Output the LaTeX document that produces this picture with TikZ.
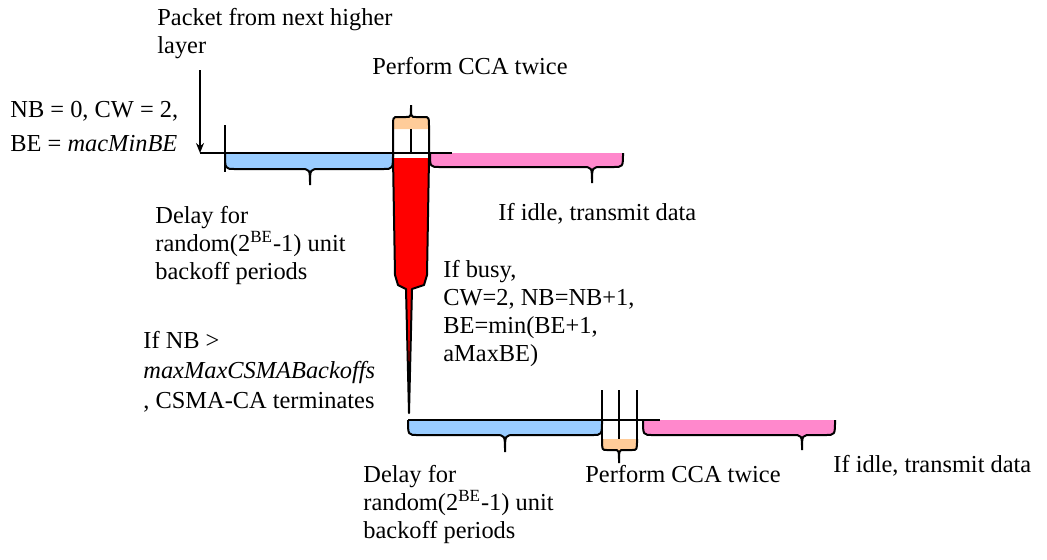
\documentclass[tikz,border=0pt]{standalone}
\usepackage{fontspec}
\setmainfont{Liberation Serif}
\usetikzlibrary{arrows.meta}

\definecolor{waitblue}{RGB}{153,204,255}
\definecolor{sendpink}{RGB}{255,136,204}
\definecolor{ccapeach}{RGB}{255,204,153}

% filled curly brace: left x, right x, tip x, flat y, body depth, tip depth, corner, colour
\newcommand{\cbrace}[8]{%
  \fill[#8] (#1,#4) .. controls (#1,#4+#5) .. (#1+#7,#4+#5) -- (#3-#7,#4+#5)
    .. controls (#3,#4+#5) .. (#3,#4+#6) .. controls (#3,#4+#5) .. (#3+#7,#4+#5)
    -- (#2-#7,#4+#5) .. controls (#2,#4+#5) .. (#2,#4) -- cycle;
  \draw[stroke] (#1,#4) .. controls (#1,#4+#5) .. (#1+#7,#4+#5) -- (#3-#7,#4+#5)
    .. controls (#3,#4+#5) .. (#3,#4+#6) .. controls (#3,#4+#5) .. (#3+#7,#4+#5)
    -- (#2-#7,#4+#5) .. controls (#2,#4+#5) .. (#2,#4);}

\begin{document}
\begin{tikzpicture}[x=0.5pt, y=-0.5pt,
        stroke/.style={line width=1pt, black},
        label/.style={anchor=base west, inner sep=0pt, align=left, font=\fontsize{12.2}{14}\selectfont},
        arrow/.style={-{Stealth[length=5pt, width=4pt]}, line width=1pt}
    ]
    \useasboundingbox (0,0) rectangle (1047,559);

    % first attempt
    \coordinate (pkt) at (200,70);
    \coordinate (t0) at (200,153);
    \coordinate (t1) at (452,153);
    \cbrace{225}{393}{310}{153}{16}{32}{10}{waitblue}
    \cbrace{430}{623}{592}{153}{14}{30}{10}{sendpink}
    \draw[stroke] (225,125) -- (225,172);
    \draw[stroke] (t0) -- (t1);
    \draw[arrow] (pkt) -- (t0);

    % CCA box and busy channel
    \cbrace{393}{429}{411}{129}{-12}{-24}{5}{ccapeach}
    \fill[red] (393,158) -- (395,275) -- (398,285) -- (406,289) -- (409,413)
        -- (412,289) -- (424,285) -- (427,275) -- (429,158) -- cycle;
    \draw[stroke, line join=round] (393,129) -- (393,158) -- (395,275) -- (398,285) -- (406,289)
        -- (409,413) -- (412,289) -- (424,285) -- (427,275) -- (429,158) -- (429,129);
    \draw[stroke] (411,129) -- (411,153);

    % second attempt
    \coordinate (b0) at (408,420);
    \coordinate (b1) at (660,420);
    \cbrace{408}{602}{505}{420}{15}{32}{10}{waitblue}
    \cbrace{643}{835}{802}{420}{15}{30}{10}{sendpink}
    \cbrace{602}{637}{619}{439}{11}{24}{5}{ccapeach}
    \draw[stroke] (b0) -- (b1);
    \foreach \x in {602,619,637}
        \draw[stroke] (\x,390) -- (\x,439);

    % base anchor sits on the last line
    \node[label] (pktlbl) at (157,53) {Packet from next higher\\layer};
    \node[label] (ccatop) at (372,74) {Perform CCA twice};
    \node[label, font=\fontsize{12.2}{17}\selectfont] (init) at (10,151) {NB = 0, CW = 2,\\BE = \textit{macMinBE}};
    \node[label] (delay1) at (155,279) {Delay for\\random(2\textsuperscript{BE}-1) unit\\backoff periods};
    \node[label] (idle1) at (498,220) {If idle, transmit data};
    \node[label] (busy) at (443,361) {If busy,\\CW=2, NB=NB+1,\\BE=min(BE+1,\\aMaxBE)};
    \node[label, font=\fontsize{12.2}{15}\selectfont] (term) at (143,408) {If NB >\\\textit{maxMaxCSMABackoffs}\\, CSMA-CA terminates};
    \node[label] (idle2) at (833,472) {If idle, transmit data};
    \node[label] (delay2) at (363,538) {Delay for\\random(2\textsuperscript{BE}-1) unit\\backoff periods};
    \node[label] (ccabot) at (585,482) {Perform CCA twice};
\end{tikzpicture}
\end{document}
